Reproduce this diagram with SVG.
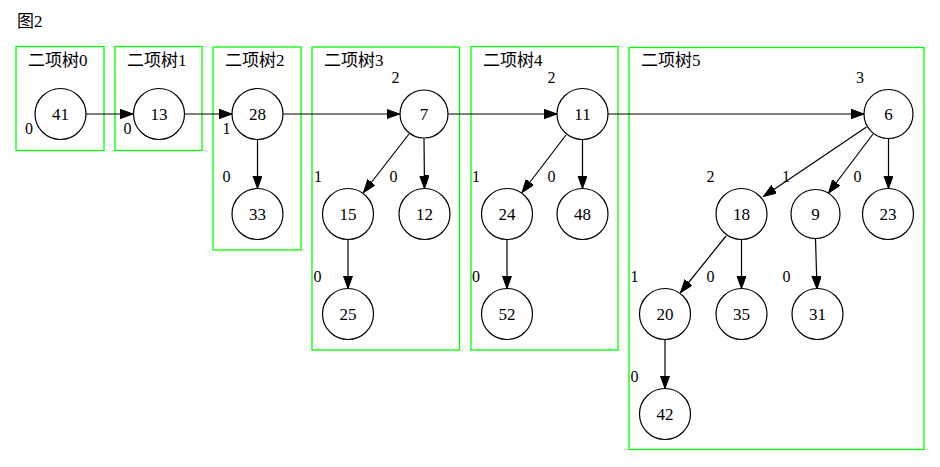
<svg xmlns="http://www.w3.org/2000/svg" width="940" height="467" viewBox="0 0 940 467">
<defs>
<marker id="ah" markerUnits="userSpaceOnUse" markerWidth="14" markerHeight="10" refX="13" refY="4.7" orient="auto">
<path d="M0,0 L13,4.7 L0,9.4 z" fill="#000" stroke="#000" stroke-width="1"/>
</marker>
</defs>
<rect width="940" height="467" fill="#fff"/>
<g font-family="Liberation Serif, Noto Sans CJK SC, serif" font-size="17" fill="#000">
<text x="17" y="27">图2</text>
</g>
<g id="clusters" font-family="Liberation Serif, Noto Sans CJK SC, serif" font-size="17" fill="#000">
<g id="c0"><rect fill="none" stroke="#00ff00" stroke-width="1.3" x="16" y="46.5" width="88" height="104"/><text x="28" y="66">二项树0</text></g>
<g id="c1"><rect fill="none" stroke="#00ff00" stroke-width="1.3" x="115" y="46.5" width="87" height="104"/><text x="127" y="66">二项树1</text></g>
<g id="c2"><rect fill="none" stroke="#00ff00" stroke-width="1.3" x="213" y="47" width="88" height="203"/><text x="225" y="66">二项树2</text></g>
<g id="c3"><rect fill="none" stroke="#00ff00" stroke-width="1.3" x="312" y="47" width="147.5" height="303"/><text x="324" y="66">二项树3</text></g>
<g id="c4"><rect fill="none" stroke="#00ff00" stroke-width="1.3" x="471" y="46.5" width="147" height="303.5"/><text x="483" y="66">二项树4</text></g>
<g id="c5"><rect fill="none" stroke="#00ff00" stroke-width="1.3" x="629" y="47.5" width="295" height="402"/><text x="641" y="66">二项树5</text></g>
</g>
<g id="connectors" stroke="#000" stroke-width="1.2" marker-end="url(#ah)">
<line x1="86" y1="114" x2="133" y2="114"/>
<line x1="184.5" y1="114" x2="232" y2="114"/>
<line x1="283" y1="114" x2="399.5" y2="114"/>
<line x1="448.5" y1="114" x2="557" y2="114"/>
<line x1="607.5" y1="114" x2="864" y2="114"/>
<line x1="257.5" y1="139.5" x2="257.5" y2="188.5"/>
<line x1="409" y1="134" x2="363.5" y2="192.5"/>
<line x1="424" y1="138.5" x2="424.5" y2="188.5"/>
<line x1="348" y1="239.5" x2="348" y2="288.5"/>
<line x1="566" y1="135" x2="522" y2="192.5"/>
<line x1="582.5" y1="139.5" x2="582.5" y2="188.5"/>
<line x1="507" y1="239.5" x2="507" y2="288.5"/>
<line x1="866.5" y1="127" x2="763.5" y2="196.5"/>
<line x1="873" y1="134" x2="828.5" y2="193"/>
<line x1="888.5" y1="138.5" x2="888.5" y2="188.5"/>
<line x1="726" y1="236" x2="680.5" y2="292.5"/>
<line x1="741.5" y1="239.5" x2="741.5" y2="288.5"/>
<line x1="815.5" y1="238.5" x2="817" y2="289"/>
<line x1="665" y1="339.5" x2="665" y2="388.5"/>
</g>
<g id="edge-labels" font-family="Liberation Serif, serif" font-size="16" text-anchor="middle" fill="#000">
<text x="29" y="134">0</text>
<text x="127.5" y="134">0</text>
<text x="226.5" y="134">1</text>
<text x="226.5" y="182">0</text>
<text x="395.5" y="83">2</text>
<text x="318" y="182">1</text>
<text x="393.5" y="182">0</text>
<text x="317.5" y="282">0</text>
<text x="551.5" y="83">2</text>
<text x="476" y="182">1</text>
<text x="551.5" y="182">0</text>
<text x="476" y="282">0</text>
<text x="860" y="83">3</text>
<text x="710.5" y="182">2</text>
<text x="786" y="182">1</text>
<text x="857.5" y="182">0</text>
<text x="634.5" y="282">1</text>
<text x="710.5" y="282">0</text>
<text x="786.5" y="282">0</text>
<text x="634.5" y="382">0</text>
</g>
<g id="nodes" font-family="Liberation Serif, serif" font-size="17" text-anchor="middle" fill="#000">
<g id="n41"><circle fill="#fff" stroke="#000" stroke-width="1.2" cx="60.5" cy="114" r="25.5"/><text x="60.5" y="119.5">41</text></g>
<g id="n13"><circle fill="#fff" stroke="#000" stroke-width="1.2" cx="159" cy="114" r="25.5"/><text x="159" y="119.5">13</text></g>
<g id="n28"><circle fill="#fff" stroke="#000" stroke-width="1.2" cx="257.5" cy="114" r="25.5"/><text x="257.5" y="119.5">28</text></g>
<g id="n33"><circle fill="#fff" stroke="#000" stroke-width="1.2" cx="257.5" cy="214" r="25.5"/><text x="257.5" y="219.5">33</text></g>
<g id="n7"><circle fill="#fff" stroke="#000" stroke-width="1.2" cx="424" cy="114" r="24"/><text x="424" y="119.5">7</text></g>
<g id="n15"><circle fill="#fff" stroke="#000" stroke-width="1.2" cx="348" cy="214" r="25.5"/><text x="348" y="219.5">15</text></g>
<g id="n12"><circle fill="#fff" stroke="#000" stroke-width="1.2" cx="424.5" cy="214" r="25.5"/><text x="424.5" y="219.5">12</text></g>
<g id="n25"><circle fill="#fff" stroke="#000" stroke-width="1.2" cx="348" cy="314" r="25.5"/><text x="348" y="319.5">25</text></g>
<g id="n11"><circle fill="#fff" stroke="#000" stroke-width="1.2" cx="582.5" cy="114" r="25.5"/><text x="582.5" y="119.5">11</text></g>
<g id="n24"><circle fill="#fff" stroke="#000" stroke-width="1.2" cx="507" cy="214" r="25.5"/><text x="507" y="219.5">24</text></g>
<g id="n48"><circle fill="#fff" stroke="#000" stroke-width="1.2" cx="582.5" cy="214" r="25.5"/><text x="582.5" y="219.5">48</text></g>
<g id="n52"><circle fill="#fff" stroke="#000" stroke-width="1.2" cx="507" cy="314" r="25.5"/><text x="507" y="319.5">52</text></g>
<g id="n6"><circle fill="#fff" stroke="#000" stroke-width="1.2" cx="888.5" cy="114" r="24.5"/><text x="888.5" y="119.5">6</text></g>
<g id="n18"><circle fill="#fff" stroke="#000" stroke-width="1.2" cx="741.5" cy="214" r="25.5"/><text x="741.5" y="219.5">18</text></g>
<g id="n9"><circle fill="#fff" stroke="#000" stroke-width="1.2" cx="815.5" cy="214" r="24.5"/><text x="815.5" y="219.5">9</text></g>
<g id="n23"><circle fill="#fff" stroke="#000" stroke-width="1.2" cx="888" cy="214" r="25.5"/><text x="888" y="219.5">23</text></g>
<g id="n20"><circle fill="#fff" stroke="#000" stroke-width="1.2" cx="665" cy="314" r="25.5"/><text x="665" y="319.5">20</text></g>
<g id="n35"><circle fill="#fff" stroke="#000" stroke-width="1.2" cx="741.5" cy="314" r="25.5"/><text x="741.5" y="319.5">35</text></g>
<g id="n31"><circle fill="#fff" stroke="#000" stroke-width="1.2" cx="817.5" cy="314" r="25.5"/><text x="817.5" y="319.5">31</text></g>
<g id="n42"><circle fill="#fff" stroke="#000" stroke-width="1.2" cx="665" cy="414" r="25.5"/><text x="665" y="419.5">42</text></g>
</g>
</svg>
